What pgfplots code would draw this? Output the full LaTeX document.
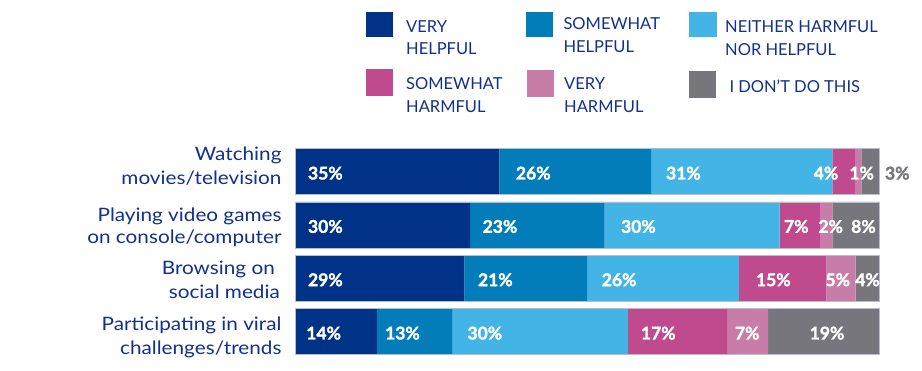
\documentclass[border=0pt]{standalone}
\usepackage{pgfplots}
\pgfplotsset{compat=1.18}
\usepackage{fontspec}
\setmainfont{Lato}
\newfontfamily\catfont{Lato}[FakeStretch=1.12]
\newfontfamily\numfont{Lato}[FakeBold=1.6]
\definecolor{vhelp}{RGB}{0,50,136}
\definecolor{shelp}{RGB}{3,125,186}
\definecolor{neith}{RGB}{66,180,229}
\definecolor{sharm}{RGB}{192,74,142}
\definecolor{vharm}{RGB}{200,125,168}
\definecolor{dont}{RGB}{118,118,124}
\definecolor{txtblue}{RGB}{18,48,140}
\definecolor{edge}{RGB}{185,188,205}
\tikzset{lbl/.style={anchor=west, inner sep=0pt, text=white, font=\numfont\bfseries\fontsize{17.5}{18}\selectfont, yshift=-1.5pt}}
\begin{document}
\begin{tikzpicture}[x=1pt,y=1pt]
\path[use as bounding box] (0,0) rectangle (922,-371);
\begin{axis}[
  at={(295pt,-358.3pt)}, anchor=south west,
  scale only axis, width=584pt, height=213.3pt,
  xmin=0, xmax=100, ymin=-0.5, ymax=3.5, y dir=reverse,
  xbar stacked, bar width=46pt, hide axis, clip=false,
]
\addplot[fill=vhelp, draw=none] coordinates {(35,0) (30,1) (29,2) (14,3)};
\addplot[fill=shelp, draw=none] coordinates {(26,0) (23,1) (21,2) (13,3)};
\addplot[fill=neith, draw=none] coordinates {(31,0) (30,1) (26,2) (30,3)};
\addplot[fill=sharm, draw=none] coordinates {(4,0) (7,1) (15,2) (17,3)};
\addplot[fill=vharm, draw=none] coordinates {(1,0) (2,1) (5,2) (7,3)};
\addplot[fill=dont, draw=none] coordinates {(3,0) (8,1) (4,2) (19,3)};
\coordinate (o1) at (axis cs:0,-0.431);
\coordinate (e1) at (axis cs:100,0.431);
\coordinate (o2) at (axis cs:0,0.569);
\coordinate (e2) at (axis cs:100,1.431);
\coordinate (o3) at (axis cs:0,1.569);
\coordinate (e3) at (axis cs:100,2.431);
\coordinate (o4) at (axis cs:0,2.569);
\coordinate (e4) at (axis cs:100,3.431);
\coordinate (a1) at (axis cs:2.2,0);
\coordinate (a2) at (axis cs:37.8,0);
\coordinate (a3) at (axis cs:63.5,0);
\coordinate (a4) at (axis cs:88.8,0);
\coordinate (a5) at (axis cs:94.9,0);
\coordinate (a6) at (axis cs:101.0,0);
\coordinate (b1) at (axis cs:2.2,1);
\coordinate (b2) at (axis cs:32.1,1);
\coordinate (b3) at (axis cs:55.8,1);
\coordinate (b4) at (axis cs:83.7,1);
\coordinate (b5) at (axis cs:89.6,1);
\coordinate (b6) at (axis cs:95.2,1);
\coordinate (c1) at (axis cs:2.2,2);
\coordinate (c2) at (axis cs:31.3,2);
\coordinate (c3) at (axis cs:52.5,2);
\coordinate (c4) at (axis cs:78.9,2);
\coordinate (c5) at (axis cs:90.8,2);
\coordinate (c6) at (axis cs:95.9,2);
\coordinate (d1) at (axis cs:1.9,3);
\coordinate (d2) at (axis cs:15.4,3);
\coordinate (d3) at (axis cs:29.5,3);
\coordinate (d4) at (axis cs:59.2,3);
\coordinate (d5) at (axis cs:75.3,3);
\coordinate (d6) at (axis cs:88.1,3);
\end{axis}
\foreach \i in {1,2,3,4} {\draw[edge, line width=0.6pt] (o\i) rectangle (e\i);}
\node[lbl] at (a1) {35\%};
\node[lbl] at (a2) {26\%};
\node[lbl] at (a3) {31\%};
\node[lbl] at (a4) {4\%};
\node[lbl] at (a5) {1\%};
\node[lbl, text=dont] at (a6) {3\%};
\node[lbl] at (b1) {30\%};
\node[lbl] at (b2) {23\%};
\node[lbl] at (b3) {30\%};
\node[lbl] at (b4) {7\%};
\node[lbl] at (b5) {2\%};
\node[lbl] at (b6) {8\%};
\node[lbl] at (c1) {29\%};
\node[lbl] at (c2) {21\%};
\node[lbl] at (c3) {26\%};
\node[lbl] at (c4) {15\%};
\node[lbl] at (c5) {5\%};
\node[lbl] at (c6) {4\%};
\node[lbl] at (d1) {14\%};
\node[lbl] at (d2) {13\%};
\node[lbl] at (d3) {30\%};
\node[lbl] at (d4) {17\%};
\node[lbl] at (d5) {7\%};
\node[lbl] at (d6) {19\%};
% category labels
\begin{scope}[every node/.style={anchor=base east, inner sep=0pt, text=txtblue, font=\catfont\fontsize{18.5}{20}\selectfont}]
\node at (281.7,-160.7) {Watching};
\node at (281.7,-184.3) {movies/television};
\node at (281.7,-221.7) {Playing video games};
\node at (281.7,-244) {on console/computer};
\node at (275,-274.3) {Browsing on};
\node at (280,-298.3) {social media};
\node at (281.7,-331) {Participating in viral};
\node at (281.7,-354.3) {challenges/trends};
\end{scope}
% legend
\fill[vhelp] (366,-12.5) rectangle (393,-37.5);
\fill[shelp] (526,-12.5) rectangle (553,-37.5);
\fill[neith] (689,-12.5) rectangle (716.5,-37.5);
\fill[sharm] (366,-69.5) rectangle (393,-96.5);
\fill[vharm] (527,-70) rectangle (554,-96.7);
\fill[dont] (688.5,-70.7) rectangle (716,-98);
\begin{scope}[every node/.style={anchor=base west, inner sep=0pt, text=txtblue, font=\fontsize{16.5}{18}\selectfont}]
\node at (406,-32.3) {VERY};
\node at (406,-55) {HELPFUL};
\node at (563.3,-29.3) {SOMEWHAT};
\node at (563.3,-52.7) {HELPFUL};
\node at (725,-32.3) {NEITHER HARMFUL};
\node at (725,-55.7) {NOR HELPFUL};
\node at (406,-89.3) {SOMEWHAT};
\node at (406,-112.3) {HARMFUL};
\node at (564,-89.3) {VERY};
\node at (564,-112.3) {HARMFUL};
\node at (729.3,-92.3) {I DON'T DO THIS};
\end{scope}
\end{tikzpicture}
\end{document}
